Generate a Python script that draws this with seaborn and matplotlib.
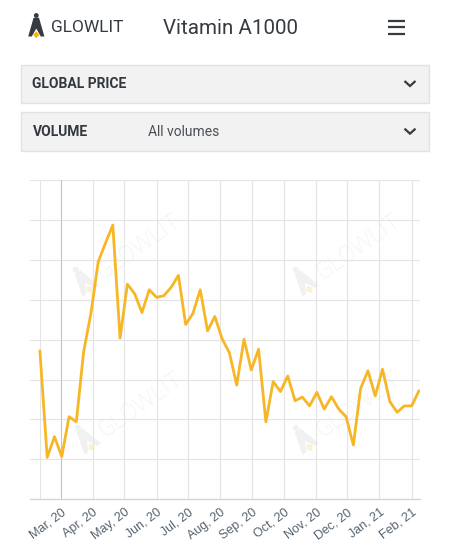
import numpy as np
import pandas as pd
import matplotlib
matplotlib.use("Agg")
import matplotlib.pyplot as plt
import seaborn as sns
from matplotlib.patches import Polygon, Rectangle, Circle

# ---------------- data ----------------
start_date = "2020-02-10"
price_values = [3.72, 1.05, 1.57, 1.07, 2.07, 1.94, 3.70, 4.66, 5.95, 6.42,
                6.87, 4.04, 5.39, 5.15, 4.68, 5.25, 5.06, 5.10, 5.31, 5.61,
                4.38, 4.66, 5.25, 4.22, 4.58, 4.02, 3.67, 2.86, 4.01, 3.24,
                3.76, 1.94, 2.95, 2.70, 3.09, 2.47, 2.56, 2.34, 2.68, 2.26,
                2.57, 2.26, 2.07, 1.36, 2.78, 3.22, 2.59, 3.26, 2.45, 2.18,
                2.34, 2.34, 2.72]
tick_labels = ["Mar, 20", "Apr, 20", "May, 20", "Jun, 20", "Jul, 20", "Aug, 20",
               "Sep, 20", "Oct, 20", "Nov, 20", "Dec, 20", "Jan, 21", "Feb, 21"]
brand = "GLOWLIT"
title = "Vitamin A1000"
menu1_label = "GLOBAL PRICE"
menu2_label = "VOLUME"
menu2_value = "All volumes"

dates = pd.date_range(start_date, periods=len(price_values), freq="7D")
month_ticks = pd.date_range("2020-03-01", periods=len(tick_labels), freq="MS")
df = pd.DataFrame({"date": dates, "price": price_values})

# ---------------- style ----------------
sns.set_theme(style="white")
plt.rcParams["font.family"] = ["Liberation Sans", "DejaVu Sans"]

W, H = 450, 555
fig = plt.figure(figsize=(W / 100, H / 100), dpi=100)
fig.patch.set_facecolor("white")

# overlay in pixel coordinates
ov = fig.add_axes([0, 0, 1, 1], zorder=0)
ov.set_xlim(0, W)
ov.set_ylim(H, 0)
ov.axis("off")

DARK = "#363b41"
YEL = "#f6b400"
ROBOTO = ["Roboto", "DejaVu Sans"]


def logo(cx, cy, s, theta_deg, body_col, dia_col, clip=None):
    th = np.deg2rad(theta_deg)
    ed = np.array([np.cos(th), -np.sin(th)])
    eu = np.array([-np.sin(th), -np.cos(th)])

    def P(u, v):
        return np.array([cx, cy]) + s * (u * ed + v * eu)

    body = [(-2.6, 7.8), (2.6, 7.8), (7.7, -10), (4.3, -10), (0, -2.4),
            (-4.3, -10), (-7.7, -10)]
    dia = [(0, -5.0), (2.8, -8.4), (0, -11.8), (-2.8, -8.4)]
    arts = [Polygon([P(u, v) for u, v in body], closed=True, fc=body_col,
                    ec="none"),
            Circle(P(0, 10.0), 2.3 * s, fc=body_col, ec="none"),
            Polygon([P(u, v) for u, v in dia], closed=True, fc=dia_col,
                    ec="none")]
    for a in arts:
        ov.add_patch(a)
        if clip is not None:
            a.set_clip_path(clip)


# header
logo(36.3, 26, 1.05, 0, DARK, YEL)
ov.text(51.5, 27, brand, fontsize=12.5, color=DARK, family=ROBOTO,
        ha="left", va="center")
ov.text(163, 29, title, fontsize=14.8, color=DARK, family=ROBOTO,
        ha="left", va="center")
for yy in (20.7, 27.3, 34):
    ov.plot([388, 405], [yy, yy], color=DARK, lw=1.6, solid_capstyle="butt")

# dropdown boxes
for (y0, y1, lab) in ((64.5, 102.5, menu1_label), (111.8, 150.5, menu2_label)):
    ov.add_patch(Rectangle((21, y0), 408, y1 - y0, fc="#f2f2f2", ec="#e2e2e2",
                           lw=1.0))
    yc = (y0 + y1) / 2
    ov.text(32.5, yc + 0.5, lab, fontsize=10, fontweight="bold",
            color="#33383e", family=ROBOTO, ha="left", va="center")
    ov.plot([404.5, 410, 415.5], [yc - 2.5, yc + 2.5, yc - 2.5], color=DARK,
            lw=1.6, solid_joinstyle="miter", solid_capstyle="butt")
ov.text(148, 131.5, menu2_value, fontsize=10, color="#4a4f56",
        family=ROBOTO, ha="left", va="center")

# watermarks (clipped to the chart container)
clip_rect = Rectangle((0, 160), W, 385, transform=ov.transData, fc="none",
                      ec="none")
ov.add_patch(clip_rect)
wm_theta = 35
th = np.deg2rad(wm_theta)
ed = np.array([np.cos(th), -np.sin(th)])
eu = np.array([-np.sin(th), -np.cos(th)])
for (cx, cy) in ((138, 247), (358, 247), (140, 405), (358, 405)):
    t = ov.text(cx, cy, brand, fontsize=17, color="#f0f0f0", family=ROBOTO,
                rotation=wm_theta, ha="center", va="center",
                rotation_mode="anchor", fontweight="light")
    t.set_clip_path(clip_rect)
    L = np.array([cx, cy]) - 64 * ed + 4 * eu
    logo(L[0], L[1], 1.3, wm_theta, "#f1f1f1", "#fcf1d0", clip=clip_rect)

# ---------------- chart ----------------
left, right = 30, 420
top, bottom = 180, 499.3
ax = fig.add_axes([left / W, 1 - bottom / H, (right - left) / W,
                   (bottom - top) / H], zorder=2)
ax.patch.set_alpha(0)

ax.set_xlim(pd.Timestamp("2020-01-31 12:00"), pd.Timestamp("2021-02-09"))
ax.set_ylim(0, 8)

GRID = "#e4e4e4"
ax.set_yticks(range(0, 9))
ax.set_yticklabels([])
ax.tick_params(axis="y", length=0)
ax.grid(axis="y", color=GRID, lw=0.8)
ax.grid(axis="x", visible=False)
ax.axvline(dates[0], color=GRID, lw=0.8, zorder=1)
for i, m in enumerate(month_ticks):
    ax.axvline(m, color="#c4c4c4" if i == 0 else GRID, lw=0.8, zorder=1)

sns.lineplot(data=df, x="date", y="price", ax=ax, color="#f7b626", lw=2.0,
             zorder=3)

ax.set_xticks(month_ticks)
ax.set_xticklabels(tick_labels, rotation=37, ha="right", va="top",
                   rotation_mode="anchor", fontsize=9, color="#56626f")
ax.tick_params(axis="x", length=0, pad=5)
ax.set_xlabel("")
ax.set_ylabel("")
for s in ("top", "left", "right"):
    ax.spines[s].set_visible(False)
ax.spines["bottom"].set_color("#d2d2d2")
ax.spines["bottom"].set_linewidth(0.9)

fig.savefig("out.png", dpi=100)
